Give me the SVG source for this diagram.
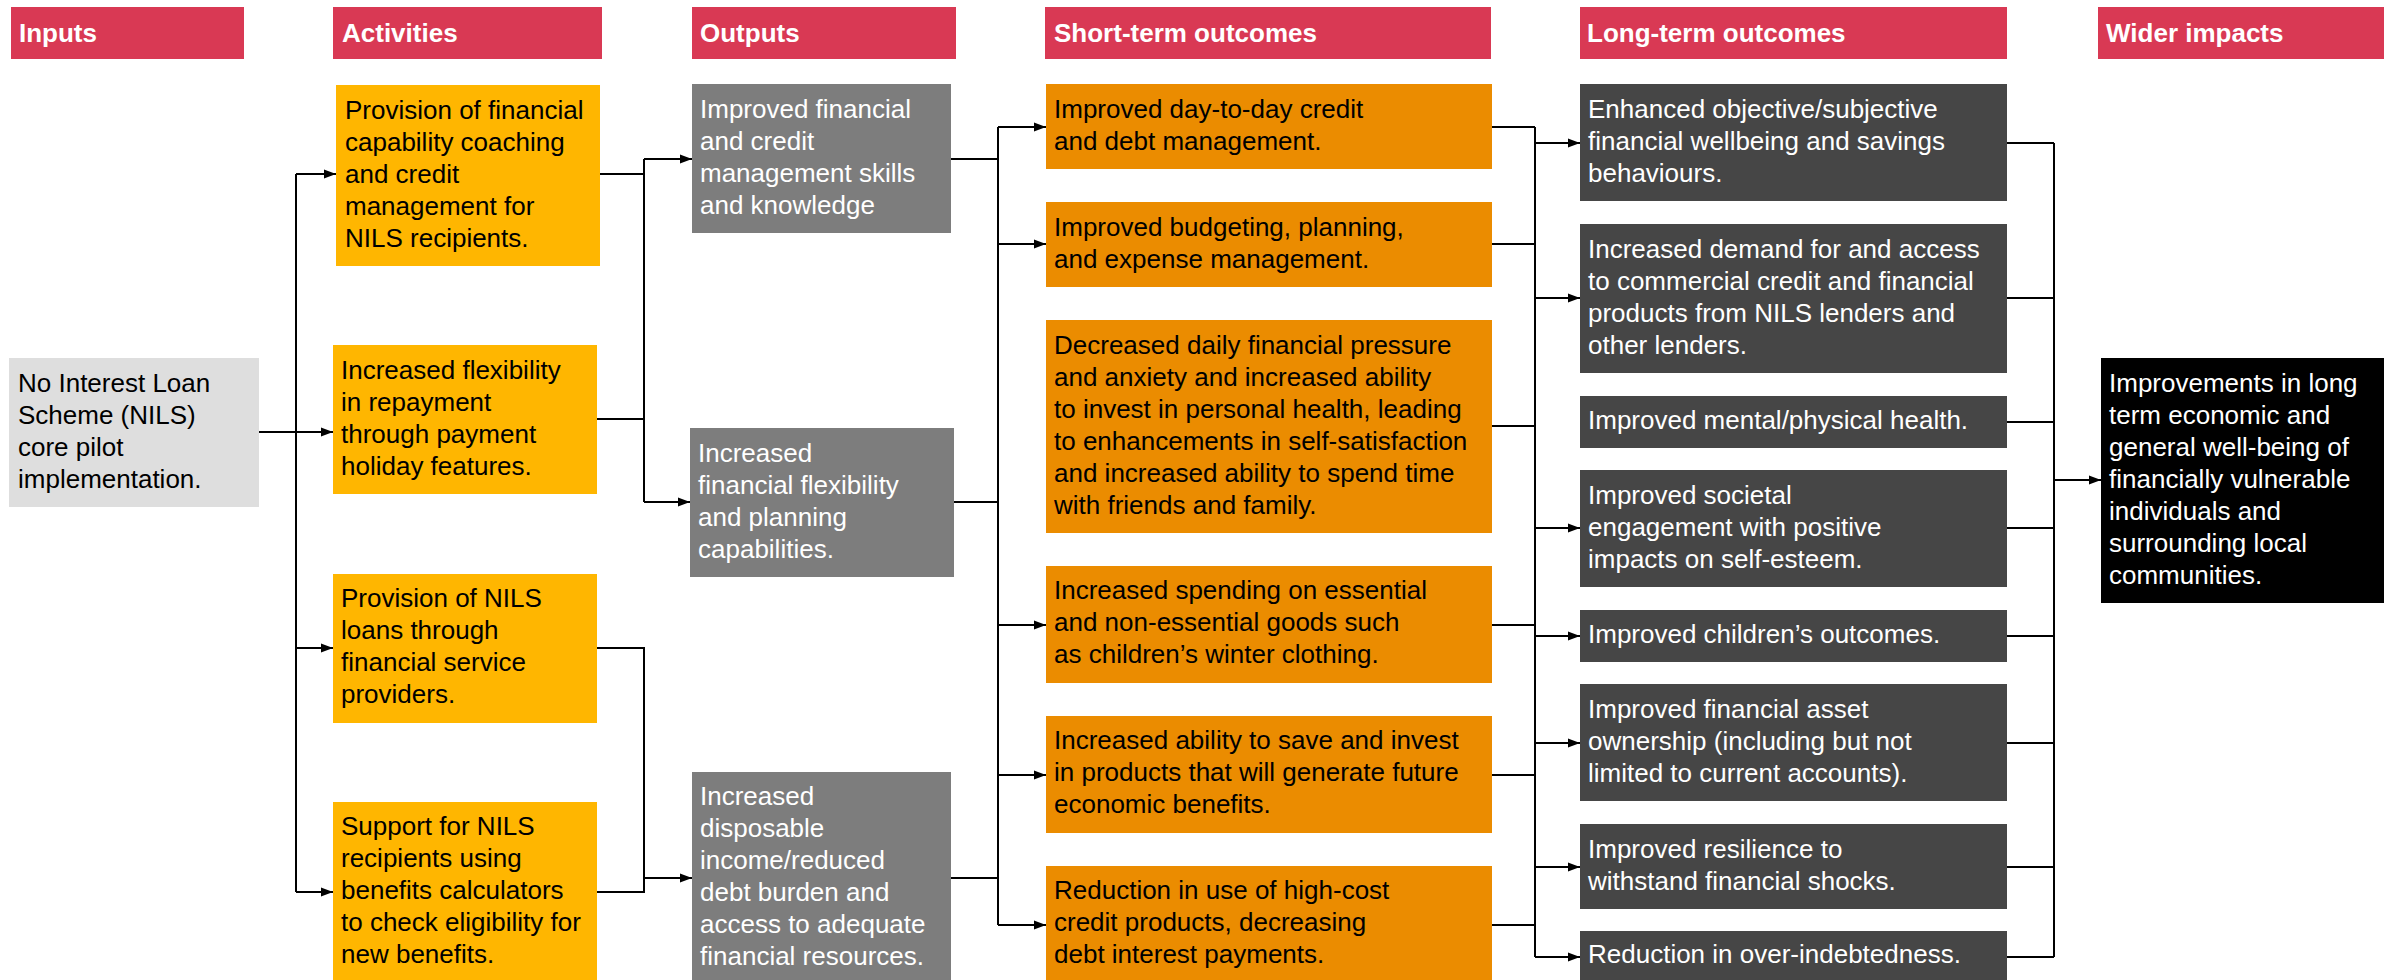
<svg xmlns="http://www.w3.org/2000/svg" width="2397" height="980" viewBox="0 0 2397 980">
  <defs>
    <marker id="arrow" markerUnits="userSpaceOnUse" markerWidth="13" markerHeight="10" refX="12" refY="5" orient="auto">
      <path d="M0,0.5 L12,5 L0,9.5 z" fill="#000"/>
    </marker>
    <style>
      text { font-family: "Liberation Sans", Arial, sans-serif; font-size: 26px; }
      .hdr rect { fill: #D93954; }
      .hdr text { fill: #fff; font-weight: bold; }
      .input rect { fill: #DEDEDE; }
      .input text { fill: #000; }
      .act rect { fill: #FFB600; }
      .act text { fill: #000; }
      .out rect { fill: #7D7D7D; }
      .out text { fill: #fff; }
      .st rect { fill: #EB8C00; }
      .st text { fill: #000; }
      .lt rect { fill: #464646; }
      .lt text { fill: #fff; }
      .wide rect { fill: #000; }
      .wide text { fill: #fff; }
      .conn path { fill: none; stroke: #000; stroke-width: 2; }
      .conn path.arr { marker-end: url(#arrow); }
    </style>
  </defs>
  <rect width="2397" height="980" fill="#fff"/>

  <!-- column headers -->
  <g id="hdr-inputs" class="hdr"><rect x="11" y="7" width="233" height="52"/><text x="19" y="41.5">Inputs</text></g>
  <g id="hdr-activities" class="hdr"><rect x="333" y="7" width="269" height="52"/><text x="342" y="41.5">Activities</text></g>
  <g id="hdr-outputs" class="hdr"><rect x="692" y="7" width="264" height="52"/><text x="700" y="41.5">Outputs</text></g>
  <g id="hdr-short" class="hdr"><rect x="1045" y="7" width="446" height="52"/><text x="1054" y="41.5">Short-term outcomes</text></g>
  <g id="hdr-long" class="hdr"><rect x="1580" y="7" width="427" height="52"/><text x="1587" y="41.5">Long-term outcomes</text></g>
  <g id="hdr-wider" class="hdr"><rect x="2098" y="7" width="286" height="52"/><text x="2106" y="41.5">Wider impacts</text></g>

  <!-- connectors -->
  <g id="connectors" class="conn">
    <!-- input to activities -->
    <path d="M259,432 H296"/>
    <path d="M296,174 V892"/>
    <path class="arr" d="M296,174 H336"/>
    <path class="arr" d="M296,432 H333"/>
    <path class="arr" d="M296,648 H333"/>
    <path class="arr" d="M296,892 H333"/>
    <!-- activities to outputs -->
    <path d="M600,174 H644"/>
    <path d="M597,419 H644"/>
    <path d="M644,159 V502"/>
    <path class="arr" d="M644,159 H692"/>
    <path class="arr" d="M644,502 H690"/>
    <path d="M597,648 H644 V892 H597"/>
    <path class="arr" d="M644,878 H692"/>
    <!-- outputs to short-term outcomes -->
    <path d="M951,159 H998"/>
    <path d="M954,502 H998"/>
    <path d="M951,878 H998"/>
    <path d="M998,127 V925"/>
    <path class="arr" d="M998,127 H1046"/>
    <path class="arr" d="M998,244 H1046"/>
    <path class="arr" d="M998,625 H1046"/>
    <path class="arr" d="M998,775 H1046"/>
    <path class="arr" d="M998,925 H1046"/>
    <!-- short-term to long-term outcomes -->
    <path d="M1492,127 H1535"/>
    <path d="M1492,244 H1535"/>
    <path d="M1492,426 H1535"/>
    <path d="M1492,625 H1535"/>
    <path d="M1492,775 H1535"/>
    <path d="M1492,925 H1535"/>
    <path d="M1535,127 V957"/>
    <path class="arr" d="M1535,143 H1580"/>
    <path class="arr" d="M1535,298 H1580"/>
    <path class="arr" d="M1535,528 H1580"/>
    <path class="arr" d="M1535,636 H1580"/>
    <path class="arr" d="M1535,743 H1580"/>
    <path class="arr" d="M1535,867 H1580"/>
    <path class="arr" d="M1535,957 H1580"/>
    <!-- long-term outcomes to wider impacts -->
    <path d="M2007,143 H2054"/>
    <path d="M2007,298 H2054"/>
    <path d="M2007,422 H2054"/>
    <path d="M2007,528 H2054"/>
    <path d="M2007,636 H2054"/>
    <path d="M2007,743 H2054"/>
    <path d="M2007,867 H2054"/>
    <path d="M2007,957 H2054"/>
    <path d="M2054,143 V957"/>
    <path class="arr" d="M2054,480 H2101"/>
  </g>

  <!-- inputs -->
  <g id="input-nils" class="input">
    <rect x="9" y="358" width="250" height="149"/>
    <text x="18" y="391.5"><tspan x="18">No Interest Loan</tspan><tspan x="18" dy="32">Scheme (NILS)</tspan><tspan x="18" dy="32">core pilot</tspan><tspan x="18" dy="32">implementation.</tspan></text>
  </g>

  <!-- activities -->
  <g id="act-coaching" class="act">
    <rect x="336" y="85" width="264" height="181"/>
    <text x="345" y="118.5"><tspan x="345">Provision of financial</tspan><tspan x="345" dy="32">capability coaching</tspan><tspan x="345" dy="32">and credit</tspan><tspan x="345" dy="32">management for</tspan><tspan x="345" dy="32">NILS recipients.</tspan></text>
  </g>
  <g id="act-flexibility" class="act">
    <rect x="333" y="345" width="264" height="149"/>
    <text x="341" y="378.5"><tspan x="341">Increased flexibility</tspan><tspan x="341" dy="32">in repayment</tspan><tspan x="341" dy="32">through payment</tspan><tspan x="341" dy="32">holiday features.</tspan></text>
  </g>
  <g id="act-loans" class="act">
    <rect x="333" y="574" width="264" height="149"/>
    <text x="341" y="607"><tspan x="341">Provision of NILS</tspan><tspan x="341" dy="32">loans through</tspan><tspan x="341" dy="32">financial service</tspan><tspan x="341" dy="32">providers.</tspan></text>
  </g>
  <g id="act-benefits" class="act">
    <rect x="333" y="802" width="264" height="183"/>
    <text x="341" y="835"><tspan x="341">Support for NILS</tspan><tspan x="341" dy="32">recipients using</tspan><tspan x="341" dy="32">benefits calculators</tspan><tspan x="341" dy="32">to check eligibility for</tspan><tspan x="341" dy="32">new benefits.</tspan></text>
  </g>

  <!-- outputs -->
  <g id="out-skills" class="out">
    <rect x="692" y="84" width="259" height="149"/>
    <text x="700" y="117.5"><tspan x="700">Improved financial</tspan><tspan x="700" dy="32">and credit</tspan><tspan x="700" dy="32">management skills</tspan><tspan x="700" dy="32">and knowledge</tspan></text>
  </g>
  <g id="out-flexibility" class="out">
    <rect x="690" y="428" width="264" height="149"/>
    <text x="698" y="461.5"><tspan x="698">Increased</tspan><tspan x="698" dy="32">financial flexibility</tspan><tspan x="698" dy="32">and planning</tspan><tspan x="698" dy="32">capabilities.</tspan></text>
  </g>
  <g id="out-income" class="out">
    <rect x="692" y="772" width="259" height="213"/>
    <text x="700" y="805"><tspan x="700">Increased</tspan><tspan x="700" dy="32">disposable</tspan><tspan x="700" dy="32">income/reduced</tspan><tspan x="700" dy="32">debt burden and</tspan><tspan x="700" dy="32">access to adequate</tspan><tspan x="700" dy="32">financial resources.</tspan></text>
  </g>

  <!-- short-term outcomes -->
  <g id="st-credit" class="st">
    <rect x="1046" y="84" width="446" height="85"/>
    <text x="1054" y="117.5"><tspan x="1054">Improved day-to-day credit</tspan><tspan x="1054" dy="32">and debt management.</tspan></text>
  </g>
  <g id="st-budgeting" class="st">
    <rect x="1046" y="202" width="446" height="85"/>
    <text x="1054" y="235.5"><tspan x="1054">Improved budgeting, planning,</tspan><tspan x="1054" dy="32">and expense management.</tspan></text>
  </g>
  <g id="st-pressure" class="st">
    <rect x="1046" y="320" width="446" height="213"/>
    <text x="1054" y="353.5"><tspan x="1054">Decreased daily financial pressure</tspan><tspan x="1054" dy="32">and anxiety and increased ability</tspan><tspan x="1054" dy="32">to invest in personal health, leading</tspan><tspan x="1054" dy="32">to enhancements in self-satisfaction</tspan><tspan x="1054" dy="32">and increased ability to spend time</tspan><tspan x="1054" dy="32">with friends and family.</tspan></text>
  </g>
  <g id="st-spending" class="st">
    <rect x="1046" y="566" width="446" height="117"/>
    <text x="1054" y="599"><tspan x="1054">Increased spending on essential</tspan><tspan x="1054" dy="32">and non-essential goods such</tspan><tspan x="1054" dy="32">as children’s winter clothing.</tspan></text>
  </g>
  <g id="st-saving" class="st">
    <rect x="1046" y="716" width="446" height="117"/>
    <text x="1054" y="749"><tspan x="1054">Increased ability to save and invest</tspan><tspan x="1054" dy="32">in products that will generate future</tspan><tspan x="1054" dy="32">economic benefits.</tspan></text>
  </g>
  <g id="st-highcost" class="st">
    <rect x="1046" y="866" width="446" height="119"/>
    <text x="1054" y="899"><tspan x="1054">Reduction in use of high-cost</tspan><tspan x="1054" dy="32">credit products, decreasing</tspan><tspan x="1054" dy="32">debt interest payments.</tspan></text>
  </g>

  <!-- long-term outcomes -->
  <g id="lt-wellbeing" class="lt">
    <rect x="1580" y="84" width="427" height="117"/>
    <text x="1588" y="117.5"><tspan x="1588">Enhanced objective/subjective</tspan><tspan x="1588" dy="32">financial wellbeing and savings</tspan><tspan x="1588" dy="32">behaviours.</tspan></text>
  </g>
  <g id="lt-demand" class="lt">
    <rect x="1580" y="224" width="427" height="149"/>
    <text x="1588" y="257.5"><tspan x="1588">Increased demand for and access</tspan><tspan x="1588" dy="32">to commercial credit and financial</tspan><tspan x="1588" dy="32">products from NILS lenders and</tspan><tspan x="1588" dy="32">other lenders.</tspan></text>
  </g>
  <g id="lt-health" class="lt">
    <rect x="1580" y="396" width="427" height="52"/>
    <text x="1588" y="429">Improved mental/physical health.</text>
  </g>
  <g id="lt-societal" class="lt">
    <rect x="1580" y="470" width="427" height="117"/>
    <text x="1588" y="503.5"><tspan x="1588">Improved societal</tspan><tspan x="1588" dy="32">engagement with positive</tspan><tspan x="1588" dy="32">impacts on self-esteem.</tspan></text>
  </g>
  <g id="lt-children" class="lt">
    <rect x="1580" y="610" width="427" height="52"/>
    <text x="1588" y="643">Improved children’s outcomes.</text>
  </g>
  <g id="lt-assets" class="lt">
    <rect x="1580" y="684" width="427" height="117"/>
    <text x="1588" y="717.5"><tspan x="1588">Improved financial asset</tspan><tspan x="1588" dy="32">ownership (including but not</tspan><tspan x="1588" dy="32">limited to current accounts).</tspan></text>
  </g>
  <g id="lt-resilience" class="lt">
    <rect x="1580" y="824" width="427" height="85"/>
    <text x="1588" y="857.5"><tspan x="1588">Improved resilience to</tspan><tspan x="1588" dy="32">withstand financial shocks.</tspan></text>
  </g>
  <g id="lt-indebtedness" class="lt">
    <rect x="1580" y="931" width="427" height="54"/>
    <text x="1588" y="963">Reduction in over-indebtedness.</text>
  </g>

  <!-- wider impacts -->
  <g id="wider-wellbeing" class="wide">
    <rect x="2101" y="358" width="283" height="245"/>
    <text x="2109" y="391.5"><tspan x="2109">Improvements in long</tspan><tspan x="2109" dy="32">term economic and</tspan><tspan x="2109" dy="32">general well-being of</tspan><tspan x="2109" dy="32">financially vulnerable</tspan><tspan x="2109" dy="32">individuals and</tspan><tspan x="2109" dy="32">surrounding local</tspan><tspan x="2109" dy="32">communities.</tspan></text>
  </g>
</svg>
